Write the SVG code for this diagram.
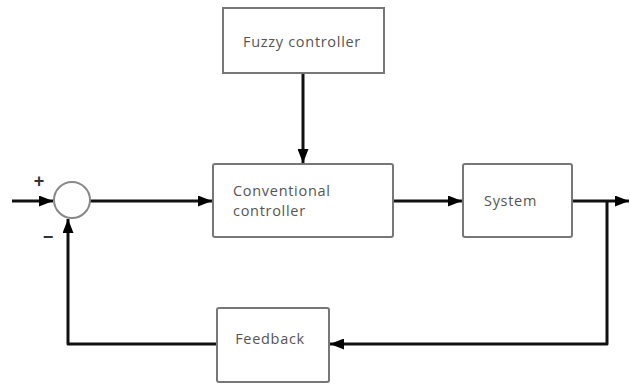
<svg xmlns="http://www.w3.org/2000/svg" width="630" height="384" viewBox="0 0 630 384">
<defs>
<style>
.box{fill:#fff;stroke:#777;stroke-width:2}
.ln{fill:none;stroke:#111;stroke-width:3;stroke-linejoin:round}
.t{font-family:"Open Sans","Liberation Sans",sans-serif;font-size:14.5px;letter-spacing:0.7px;fill:#555}
.s{font-family:"Liberation Sans",sans-serif;font-size:18px;font-weight:bold;fill:#333}
</style>
<marker id="ah" viewBox="0 0 14 11" refX="14" refY="5.5" markerWidth="14" markerHeight="11" markerUnits="userSpaceOnUse" orient="auto">
<path d="M0,0 L14,5.5 L0,11 Z" fill="#000"/>
</marker>
</defs>
<rect width="630" height="384" fill="#fff"/>
<g id="connectors">
<line class="ln" x1="12" y1="201" x2="53" y2="201" marker-end="url(#ah)"/>
<line class="ln" x1="90" y1="201" x2="212" y2="201" marker-end="url(#ah)"/>
<line class="ln" x1="303" y1="73" x2="303" y2="163" marker-end="url(#ah)"/>
<line class="ln" x1="393" y1="201" x2="462" y2="201" marker-end="url(#ah)"/>
<line class="ln" x1="572" y1="201" x2="629" y2="201" marker-end="url(#ah)"/>
<polyline class="ln" points="607,201 607,344 330,344" marker-end="url(#ah)"/>
<polyline class="ln" points="217,344 68,344 68,219" marker-end="url(#ah)"/>
</g>
<g id="sum">
<circle cx="72" cy="200" r="18" fill="#fff" stroke="#888" stroke-width="2"/>
<text class="s" x="39" y="187" text-anchor="middle">+</text>
<text class="s" x="48" y="243" text-anchor="middle">−</text>
</g>
<g id="fuzzy">
<rect class="box" x="223" y="8" width="161" height="65"/>
<text class="t" x="302" y="47" text-anchor="middle">Fuzzy controller</text>
</g>
<g id="conventional">
<rect class="box" x="213" y="164" width="180" height="73" rx="2"/>
<text class="t" x="233" y="196">Conventional</text>
<text class="t" x="233" y="216">controller</text>
</g>
<g id="system">
<rect class="box" x="463" y="164" width="109" height="73" rx="2"/>
<text class="t" x="484" y="206">System</text>
</g>
<g id="feedback">
<rect class="box" x="217" y="308" width="112" height="74" rx="2"/>
<text class="t" x="270" y="344" text-anchor="middle">Feedback</text>
</g>
</svg>
